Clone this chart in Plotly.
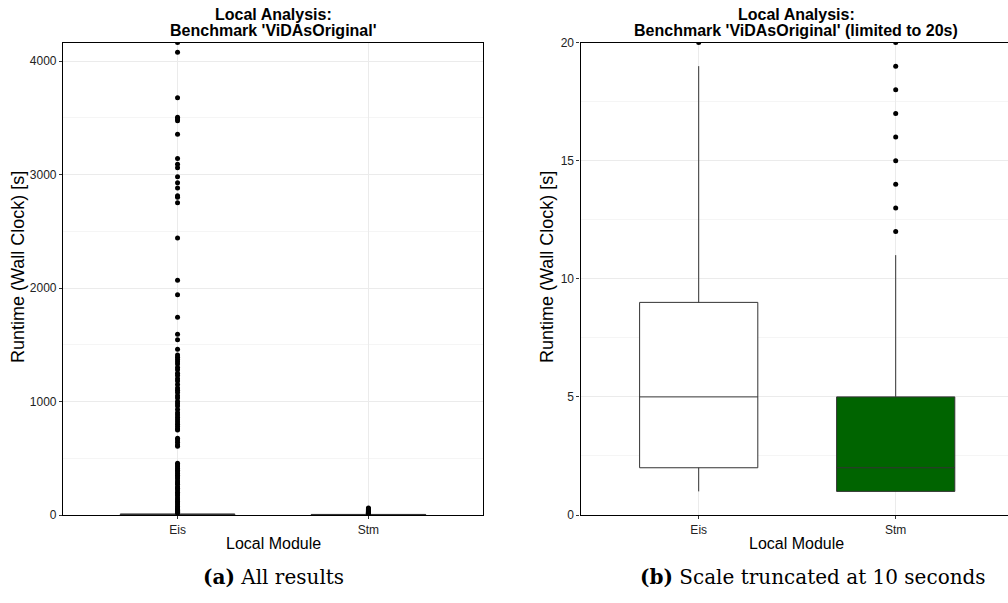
import plotly.graph_objects as go

# Categories and five-number summaries of the runtime distributions
modules = ["Eis", "Stm"]
q1 = [2, 1]
median = [5, 2]
q3 = [9, 5]
lower_whisker = [1, 1]
upper_whisker = [19, 11]
box_fill = ["#ffffff", "#006400"]

# Outliers beyond the upper whisker (seconds)
eis_outliers = [
    4163, 4077, 3677, 3504, 3490, 3474, 3354, 3140, 3090, 3060, 2981, 2928,
    2881, 2813, 2799, 2752, 2440, 2068, 1941, 1742, 1592, 1545, 1460,
    1410, 1390, 1370, 1350, 1330, 1300, 1280, 1250, 1230, 1200, 1180, 1150,
    1120, 1100, 1080, 1050, 1030, 1000, 980, 960, 930, 900, 880, 860, 840,
    820, 800, 780, 760, 750, 676, 660, 640, 620, 605,
    455, 440, 425, 410, 395, 380, 365, 350, 335, 320, 300, 285, 270, 250,
    235, 220, 200, 185, 170, 150, 135, 120, 105, 90, 75, 62, 50, 42, 35,
    30, 26, 23, 21, 20,
]
stm_outliers = [12, 13, 14, 15, 16, 17, 18, 19, 20, 22, 25, 28, 32, 36, 40,
                45, 50, 55, 62]

left_ticks = [0, 1000, 2000, 3000, 4000]
right_ticks = [0, 5, 10, 15, 20]

W, H = 1008, 603
LINE = "#333333"
SANS = "Liberation Sans, Arial, sans-serif"
SERIF = "DejaVu Serif, serif"


def px(x):
    return x / W


def py(y):
    return 1 - y / H


fig = go.Figure()

for axis_id in ["", "2"]:
    xa, ya = "x" + axis_id, "y" + axis_id
    for i, m in enumerate(modules):
        fig.add_trace(go.Box(
            x=[m], q1=[q1[i]], median=[median[i]], q3=[q3[i]],
            lowerfence=[lower_whisker[i]], upperfence=[upper_whisker[i]],
            boxpoints=False, width=0.6, whiskerwidth=0,
            fillcolor=box_fill[i], line=dict(color=LINE, width=1),
            xaxis=xa, yaxis=ya, showlegend=False, hoverinfo="skip",
        ))
    for m, pts in zip(modules, [eis_outliers, stm_outliers]):
        fig.add_trace(go.Scatter(
            x=[m] * len(pts), y=pts, mode="markers",
            marker=dict(color="black", size=5, line=dict(width=0)),
            xaxis=xa, yaxis=ya, showlegend=False, hoverinfo="skip",
        ))

axis_common = dict(
    automargin=False,
    showline=True, linecolor="black", linewidth=1.2,
    ticks="outside", ticklen=3, tickcolor=LINE, tickwidth=1,
    tickfont=dict(family=SANS, size=12, color="#222222"),
    showgrid=True, gridcolor="#ebebeb", gridwidth=1, zeroline=False,
)
minor_grid = dict(showgrid=True, gridcolor="#f5f5f5", gridwidth=0.6)

fig.update_layout(
    width=W, height=H,
    margin=dict(l=0, r=0, t=0, b=0, pad=0, autoexpand=False),
    paper_bgcolor="white", plot_bgcolor="white",
    xaxis=dict(axis_common, domain=[px(63), px(483)], anchor="y",
               type="category", categoryorder="array", categoryarray=modules,
               range=[-0.6, 1.6], mirror=True),
    yaxis=dict(axis_common, domain=[py(515), py(42.5)], anchor="x",
               range=[0, 4163], tickvals=left_ticks, mirror=True,
               minor=dict(minor_grid, dtick=500, tick0=0)),
    xaxis2=dict(axis_common, domain=[px(580.5), 1.0], anchor="y2",
                type="category", categoryorder="array", categoryarray=modules,
                range=[-0.6, -0.6 + (W - 580.5) / 197.0], mirror=True),
    yaxis2=dict(axis_common, domain=[py(515), py(42.5)], anchor="x2",
                range=[0, 20], tickvals=right_ticks, mirror=False,
                minor=dict(minor_grid, dtick=2.5, tick0=0)),
)

ann = []
title_font = dict(family=SANS, size=16, color="black")
for cx, line2 in [(273, "Benchmark 'ViDAsOriginal'"),
                  (796, "Benchmark 'ViDAsOriginal' (limited to 20s)")]:
    ann.append(dict(x=px(cx), y=py(14), text="<b>Local Analysis:</b>",
                    font=title_font))
    ann.append(dict(x=px(cx), y=py(31), text="<b>" + line2 + "</b>",
                    font=title_font))
axis_title_font = dict(family=SANS, size=16, color="black")
for cx in [273, 796]:
    ann.append(dict(x=px(cx), y=py(543), text="Local Module",
                    font=axis_title_font))
for cx in [18, 547]:
    ann.append(dict(x=px(cx), y=py(267), text="Runtime (Wall Clock) [s]",
                    textangle=-90, font=dict(axis_title_font, size=18)))
cap_font = dict(family=SERIF, size=20, color="black")
ann.append(dict(x=px(273), y=py(577), text="<b>(a)</b> All results",
                font=cap_font))
ann.append(dict(x=px(813), y=py(577),
                text="<b>(b)</b> Scale truncated at 10 seconds", font=cap_font))
for a in ann:
    a.update(xref="paper", yref="paper", showarrow=False,
             xanchor="center", yanchor="middle")
fig.update_layout(annotations=ann)

fig.write_html("out.html")
